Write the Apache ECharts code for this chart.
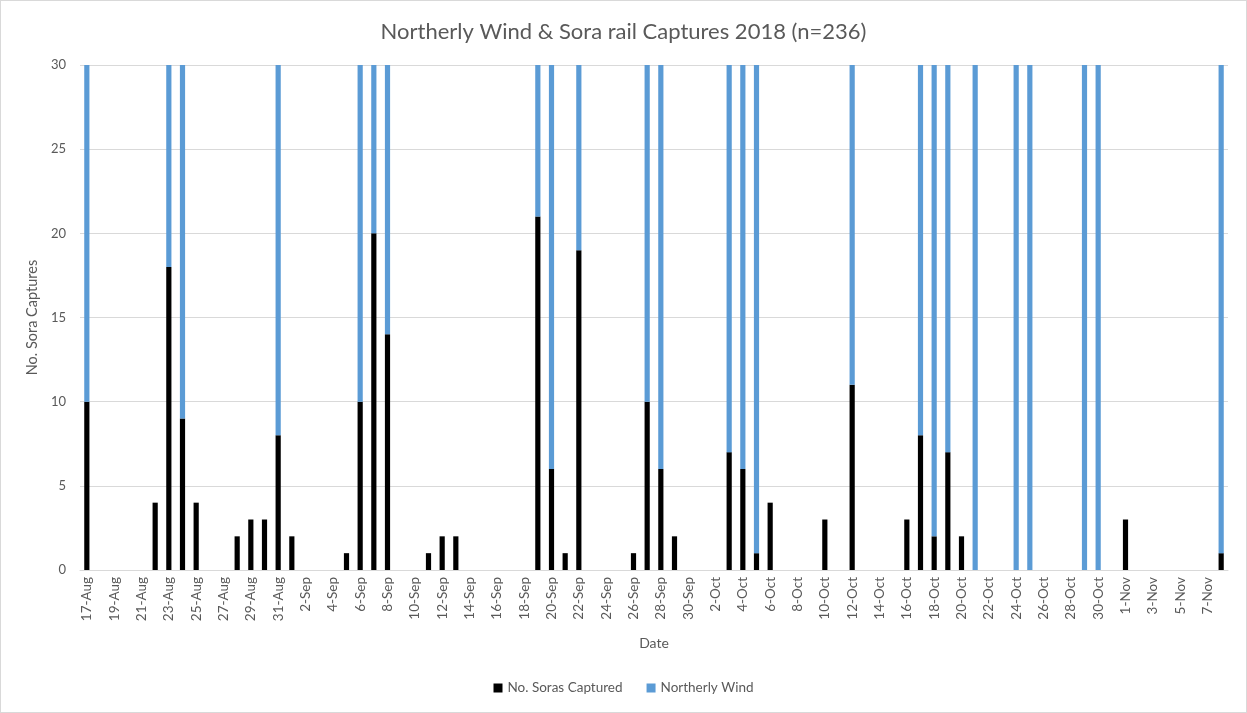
<!DOCTYPE html>
<html>
<head>
<meta charset="utf-8">
<script src="https://cdn.jsdelivr.net/npm/echarts@6/dist/echarts.min.js"></script>
<style>
  html, body { margin: 0; padding: 0; background: #fff; }
  #chart { width: 1245px; height: 711px; border: 1px solid #d9d9d9; }
</style>
</head>
<body>
<div id="chart"></div>
<script>
// 17-Aug .. 8-Nov, one category per day
const dates = [
  '17-Aug','18-Aug','19-Aug','20-Aug','21-Aug','22-Aug','23-Aug','24-Aug','25-Aug','26-Aug','27-Aug','28-Aug','29-Aug','30-Aug','31-Aug',
  '1-Sep','2-Sep','3-Sep','4-Sep','5-Sep','6-Sep','7-Sep','8-Sep','9-Sep','10-Sep','11-Sep','12-Sep','13-Sep','14-Sep','15-Sep',
  '16-Sep','17-Sep','18-Sep','19-Sep','20-Sep','21-Sep','22-Sep','23-Sep','24-Sep','25-Sep','26-Sep','27-Sep','28-Sep','29-Sep','30-Sep',
  '1-Oct','2-Oct','3-Oct','4-Oct','5-Oct','6-Oct','7-Oct','8-Oct','9-Oct','10-Oct','11-Oct','12-Oct','13-Oct','14-Oct','15-Oct',
  '16-Oct','17-Oct','18-Oct','19-Oct','20-Oct','21-Oct','22-Oct','23-Oct','24-Oct','25-Oct','26-Oct','27-Oct','28-Oct','29-Oct','30-Oct','31-Oct',
  '1-Nov','2-Nov','3-Nov','4-Nov','5-Nov','6-Nov','7-Nov','8-Nov'
];

// No. Soras Captured
const captured = [
  10,0,0,0,0,4,18,9,4,0,0,2,3,3,8,
  2,0,0,0,1,10,20,14,0,0,1,2,2,0,0,
  0,0,0,21,6,1,19,0,0,0,1,10,6,2,0,
  0,0,7,6,1,4,0,0,0,3,0,11,0,0,0,
  3,8,2,7,2,0,0,0,0,0,0,0,0,0,0,0,
  3,0,0,0,0,0,0,1
];

// Northerly Wind (blue part, stacked on top up to 30)
const wind = [
  20,0,0,0,0,0,12,21,0,0,0,0,0,0,22,
  0,0,0,0,0,20,10,16,0,0,0,0,0,0,0,
  0,0,0,9,24,0,11,0,0,0,0,20,24,0,0,
  0,0,23,24,29,0,0,0,0,0,0,19,0,0,0,
  0,22,28,23,0,30,0,0,30,30,0,0,0,30,30,0,
  0,0,0,0,0,0,0,29
];

const yTicks = [0, 5, 10, 15, 20, 25, 30];

const font = 'Lato, "Open Sans", sans-serif';
const chart = echarts.init(document.getElementById('chart'));
const option = {
  animation: false,
  textStyle: { fontFamily: font },
  title: {
    text: 'Northerly Wind & Sora rail Captures 2018 (n=236)',
    left: 'center',
    top: 15,
    textStyle: { fontFamily: font, fontSize: 22, fontWeight: 'normal', color: '#595959' }
  },
  legend: {
    bottom: 12,
    left: 'center',
    itemWidth: 9,
    itemHeight: 9,
    itemGap: 24,
    icon: 'rect',
    textStyle: { fontFamily: font, fontSize: 13.5, color: '#595959' },
    data: ['No. Soras Captured', 'Northerly Wind']
  },
  grid: { left: 79, right: 18, top: 64, bottom: 142 },
  xAxis: {
    type: 'category',
    data: dates,
    name: 'Date',
    nameLocation: 'middle',
    nameGap: 66,
    nameTextStyle: { fontFamily: font, fontSize: 14, color: '#595959' },
    axisLine: { lineStyle: { color: '#d9d9d9' } },
    axisTick: { interval: 1, length: 5, lineStyle: { color: '#d9d9d9' } },
    axisLabel: { interval: 1, rotate: 90, fontFamily: font, fontSize: 13.5, color: '#595959', margin: 7 }
  },
  yAxis: {
    type: 'value',
    min: yTicks[0],
    max: yTicks[yTicks.length - 1],
    interval: 5,
    name: 'No. Sora Captures',
    nameLocation: 'middle',
    nameGap: 37,
    nameTextStyle: { fontFamily: font, fontSize: 14.5, color: '#595959' },
    axisLine: { show: false },
    axisTick: { show: false },
    axisLabel: { fontFamily: font, fontSize: 13, color: '#595959', margin: 14 },
    splitLine: { lineStyle: { color: '#d9d9d9' } }
  },
  series: [
    {
      name: 'No. Soras Captured',
      type: 'bar',
      stack: 'total',
      barWidth: '38%',
      itemStyle: { color: '#000000' },
      data: captured
    },
    {
      name: 'Northerly Wind',
      type: 'bar',
      stack: 'total',
      barWidth: '38%',
      itemStyle: { color: '#5b9bd5' },
      data: wind
    }
  ]
};
chart.setOption(option);
window.addEventListener('resize', function () {
  chart.resize();
});
</script>
</body>
</html>
